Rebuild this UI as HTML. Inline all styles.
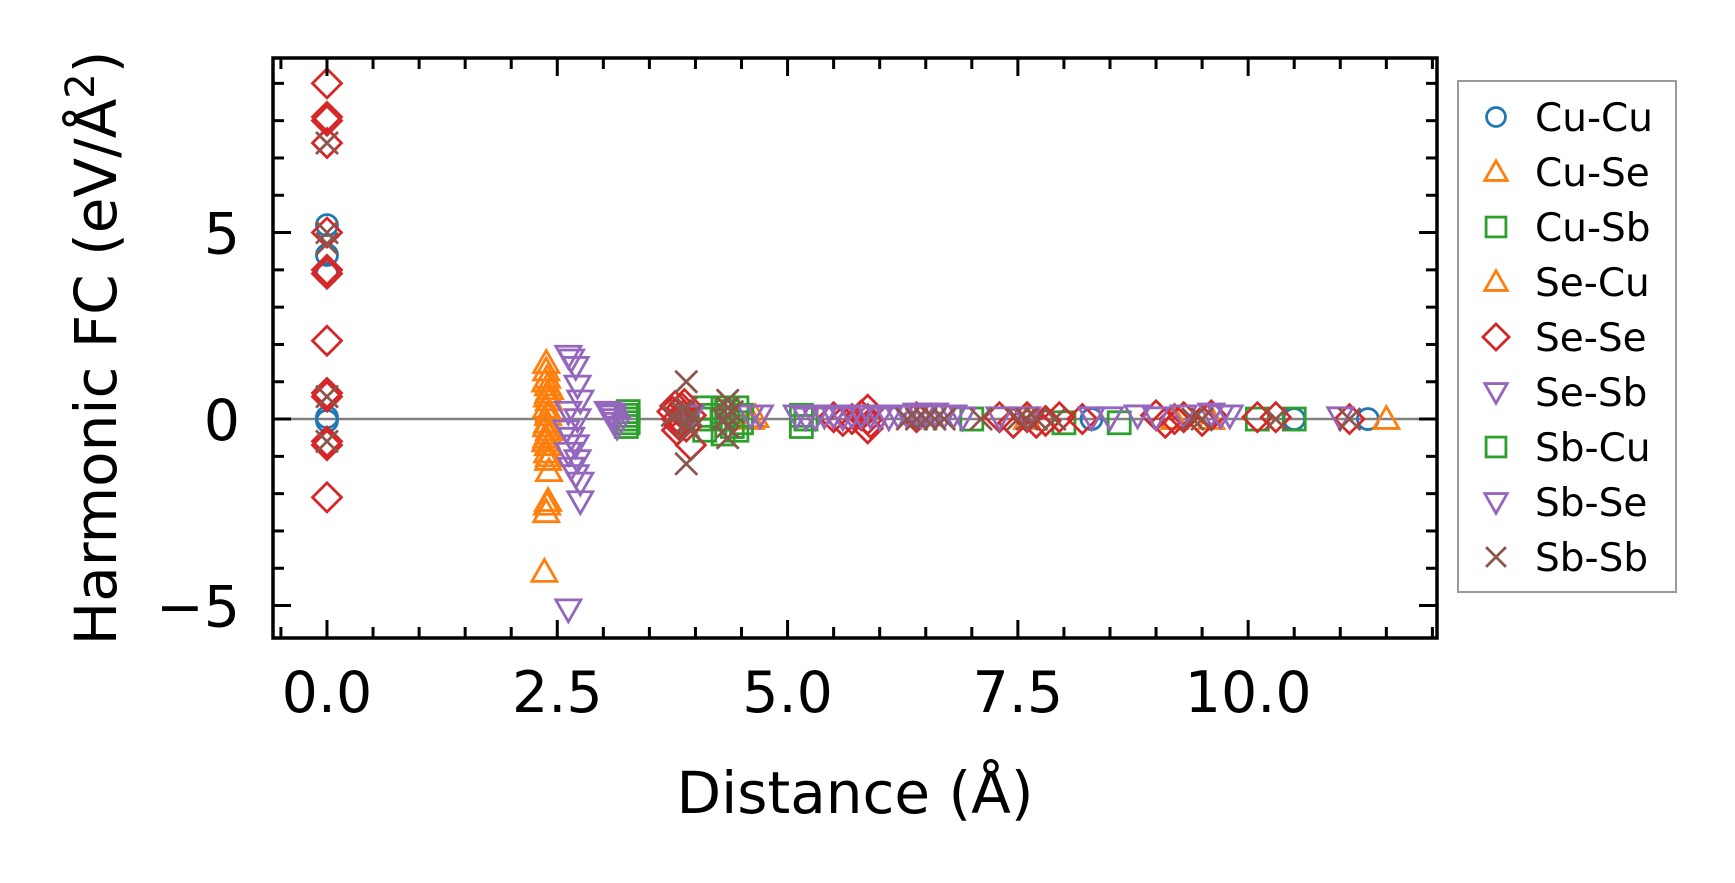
<!DOCTYPE html>
<html><head><meta charset="utf-8"><style>
html,body{margin:0;padding:0;background:#fff}
svg{display:block;font-family:"DejaVu Sans","Liberation Sans",sans-serif}
</style></head><body>
<svg id="chart" width="1735" height="883" viewBox="0 0 1735 883" xmlns="http://www.w3.org/2000/svg">
<rect width="1735" height="883" fill="#fff"/>
<g id="plot"></g>
<text x="855" y="813" font-size="58" text-anchor="middle">Distance (Å)</text>
<text transform="translate(116,348) rotate(-90)" font-size="58" text-anchor="middle">Harmonic FC (eV/Å<tspan dy="-22" font-size="40">2</tspan><tspan dy="22">)</tspan></text>
<g id="legend"></g>
</svg>
<script>
const xTicks=[0,2.5,5,7.5,10];
const xTickLabels=["0.0","2.5","5.0","7.5","10.0"];
const yTicks=[-5,0,5];
const yTickLabels=["\u22125","0","5"];
const legendLabels=["Cu-Cu","Cu-Se","Cu-Sb","Se-Cu","Se-Se","Se-Sb","Sb-Cu","Sb-Se","Sb-Sb"];
const legendKinds=["circle","tri","square","tri","diamond","tridown","square","tridown","x"];

const cucuX=[0,0,0,0,0,8.3,10.5,11.3];
const cucuY=[5.2,4.4,3.9,0.05,-0.05,0,0,0];
const cuseX=[2.38,2.38,2.39,2.4,2.4,2.41,2.38,2.4,2.39,2.41,2.38,2.4,2.39,2.4,2.41,2.4,2.38,2.39,2.36,2.37,2.42,2.39,2.41,2.38,2.4,2.37,2.41,4.6,4.65,7.6,9.2,9.6,11.5];
const cuseY=[1.5,1.3,1.1,0.9,0.7,0.5,0.3,0.1,-0.1,-0.3,-0.5,-0.7,-0.9,-1.1,-1.4,-2.2,-2.5,-2.3,-4.1,1.0,0.8,0.6,0.2,-0.2,-0.4,-0.6,-1.0,0,0.05,0,0,0,0];
const cusbX=[3.25,3.25,3.25,3.27,3.27,4.05,4.1,4.1,4.15,4.3,4.3,4.3,4.35,4.4,4.45,4.5,4.5,4.45,5.15,5.15,5.2,7.0,8.0,8.6,10.1,10.5];
const cusbY=[0.1,0,-0.2,0.2,-0.1,0,0.3,-0.3,0.1,0.3,0,-0.4,0.2,-0.2,0.3,0.1,-0.1,-0.3,0.1,-0.2,0,0,-0.1,-0.1,0,0];
const seseX=[0,0,0,0,0,0,0,0,0,0,0,0,0,3.75,3.78,3.8,3.82,3.85,3.87,3.9,3.95,3.95,3.8,3.88,5.5,5.6,5.7,5.8,5.87,5.87,5.87,5.9,6.4,7.3,7.45,7.6,7.7,7.8,7.95,8.2,9.0,9.1,9.2,9.3,9.5,9.6,10.1,10.3,11.1];
const seseY=[9.0,8.1,8.0,7.4,5.0,4.0,3.9,2.1,0.7,0.6,-0.6,-0.7,-2.1,0.2,0.35,0.0,-0.15,0.3,0.1,-0.2,0.1,-0.7,-0.3,0.4,0.05,-0.05,0,0.1,0.25,-0.25,0,-0.1,0.05,0.05,-0.1,0.05,-0.1,-0.05,0.05,0,0.1,-0.1,0,0.05,-0.05,0.1,0.05,0.05,0];
const sesbX=[2.62,2.65,2.7,2.72,2.75,2.62,2.72,2.6,2.65,2.7,2.62,2.72,2.65,2.7,2.75,2.75,2.62,3.05,3.08,3.1,3.1,3.12,3.15,3.95,4.6,4.7,5.1,5.2,5.3,5.4,5.5,5.6,5.7,5.8,5.9,6.0,6.1,6.2,6.3,6.4,6.45,6.5,6.6,6.7,6.8,6.9,7.3,7.6,8.3,8.5,8.8,9.0,9.3,9.6,9.7,9.8,11.0];
const sesbY=[1.7,1.6,1.4,0.9,0.5,0.2,0,-0.3,-0.5,-0.7,-0.9,-1.1,-1.3,-1.5,-1.7,-2.2,-5.1,0.2,0.15,0.1,0,-0.1,-0.2,0.1,0.1,0.1,0.1,0.05,0.05,0.1,0.1,0.05,0.1,0.1,0.1,0.05,0.05,0.1,0.1,0.15,0.1,0.15,0.15,0.1,0.1,0.05,0.05,0.05,0.05,0.05,0.1,0.05,0.1,0.15,0.1,0.1,0.05];
const sbsbX=[0,0,0,0,0,3.75,3.9,3.9,3.95,3.9,3.95,3.9,3.85,3.92,4.35,4.35,4.35,4.35,4.35,4.3,4.4,6.3,6.4,6.5,6.6,6.7,7.1,7.5,7.6,7.7,7.9,9.4,9.5,10.3,11.1];
const sbsbY=[7.4,5.0,4.7,0.6,-0.6,0.1,1.0,0.3,0.1,-0.1,-0.3,-1.2,0.2,-0.2,0.5,0.3,0.1,-0.2,-0.5,0,0.2,0,0,0,0,0,0,0,0,0,0,0,0,0,0];

const L=273,R=1437,T=58,B=638;
const xmin=-0.586,xmax=12.05,ymin=-5.87,ymax=9.68;
function sx(v){return L+(v-xmin)/(xmax-xmin)*(R-L);}
function sy(v){return B-(v-ymin)/(ymax-ymin)*(B-T);}
const NS="http://www.w3.org/2000/svg";
function mk(tag,attrs,parent){const e=document.createElementNS(NS,tag);for(const k in attrs)e.setAttribute(k,attrs[k]);parent.appendChild(e);return e;}
const plot=document.getElementById('plot');
const colors={circle:"#1f77b4",tri:"#ff7f0e",square:"#2ca02c",diamond:"#d62728",tridown:"#9467bd",x:"#8c564b"};
function marker(kind,cx,cy,parent,s){
  s=s||1;const c=colors[kind];let e;
  const st={fill:"none",stroke:c,"stroke-width":2.8};
  if(kind==="circle"){e=mk('circle',Object.assign({cx:cx,cy:cy,r:10.5*s},st),parent);}
  else if(kind==="tri"){const h=12.5*s;e=mk('polygon',Object.assign({points:`${cx},${cy-h} ${cx+h},${cy+h*0.75} ${cx-h},${cy+h*0.75}`},st),parent);}
  else if(kind==="tridown"){const h=12.5*s;e=mk('polygon',Object.assign({points:`${cx},${cy+h} ${cx+h},${cy-h*0.75} ${cx-h},${cy-h*0.75}`},st),parent);}
  else if(kind==="square"){const h=11*s;e=mk('rect',Object.assign({x:cx-h,y:cy-h,width:2*h,height:2*h},st),parent);}
  else if(kind==="diamond"){const h=14.5*s;e=mk('polygon',Object.assign({points:`${cx},${cy-h} ${cx+h},${cy} ${cx},${cy+h} ${cx-h},${cy}`},st),parent);}
  else {const h=11*s;e=mk('path',Object.assign({d:`M${cx-h},${cy-h}L${cx+h},${cy+h}M${cx-h},${cy+h}L${cx+h},${cy-h}`},st),parent);}
  return e;
}
const zl=mk('line',{x1:L,x2:R,y1:sy(0),y2:sy(0),stroke:"#808080","stroke-width":2.5},plot);


const series=[["cu-cu","circle",cucuX,cucuY],["cu-se","tri",cuseX,cuseY],["cu-sb","square",cusbX,cusbY],["se-se","diamond",seseX,seseY],["se-sb","tridown",sesbX,sesbY],["sb-sb","x",sbsbX,sbsbY]];
series.forEach(([name,kind,xs,ys])=>{
  const g=mk('g',{},plot);
  
  
  xs.forEach((xv,i)=>{const m=marker(kind,sx(xv),sy(ys[i]),g);
    
    });
});
const fr=mk('rect',{x:L,y:T,width:R-L,height:B-T,fill:"none",stroke:"#000","stroke-width":3.5},plot);


const tk=mk('g',{stroke:"#000","stroke-width":3},plot);


for(let v=-0.5;v<=12.01;v+=0.5){const x=sx(v);const major=Math.abs(v/2.5-Math.round(v/2.5))<1e-6;const len=major?18:11;
  mk('line',{x1:x,x2:x,y1:B,y2:B-len},tk);mk('line',{x1:x,x2:x,y1:T,y2:T+len},tk);}
for(let v=-5;v<=9;v+=1){const y=sy(v);const major=v%5===0;const len=major?18:11;
  mk('line',{x1:L,x2:L+len,y1:y,y2:y},tk);mk('line',{x1:R,x2:R-len,y1:y,y2:y},tk);}
xTicks.forEach((v,i)=>{const t=mk('text',{x:sx(v),y:712,"font-size":57,"text-anchor":"middle"},plot);t.textContent=xTickLabels[i];
  
  });
yTicks.forEach((v,i)=>{const t=mk('text',{x:240,y:sy(v)+21,"font-size":57,"text-anchor":"end"},plot);t.textContent=yTickLabels[i];
  
  });
const lg=document.getElementById('legend');
const lb=mk('rect',{x:1458,y:81,width:218,height:511,fill:"#fff",stroke:"#999","stroke-width":2},lg);


legendLabels.forEach((lab,i)=>{const cy=117+i*55;
  const g=mk('g',{},lg);
  
  
  marker(legendKinds[i],1496,cy,g,0.9);
  const t=mk('text',{x:1535,y:cy+14,"font-size":39},g);t.textContent=lab;});
</script>
</body></html>
